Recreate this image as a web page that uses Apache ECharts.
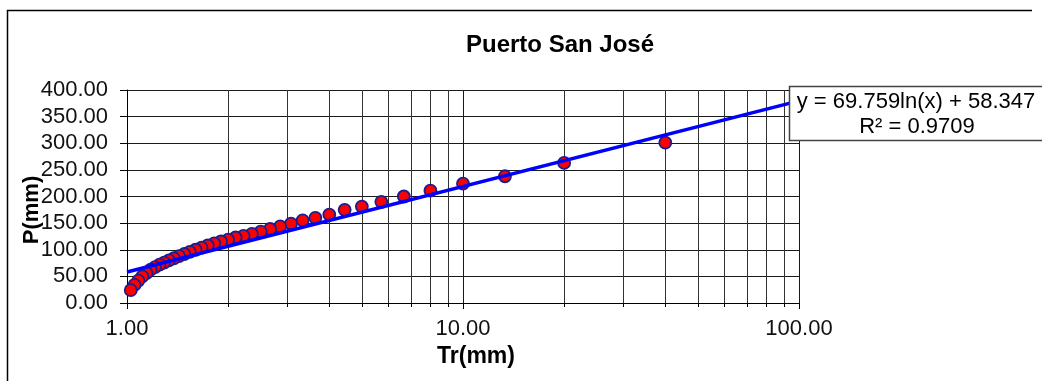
<!DOCTYPE html>
<html>
<head>
<meta charset="utf-8">
<script src="https://cdn.jsdelivr.net/npm/echarts@6/dist/echarts.min.js"></script>
<style>html,body{margin:0;padding:0;background:#fff}#c{width:1042px;height:381px}</style>
</head>
<body>
<div id="c"></div>
<script>
// Return period (Tr) values for the observed points
var trValues = [40, 20, 13.333, 10, 8, 6.667, 5.714, 5, 4.444, 4, 3.636, 3.333, 3.077, 2.857, 2.667, 2.5, 2.353, 2.222, 2.105, 2, 1.905, 1.818, 1.739, 1.667, 1.6, 1.538, 1.481, 1.429, 1.379, 1.333, 1.290, 1.25, 1.212, 1.176, 1.143, 1.111, 1.081, 1.053, 1.026];
// Precipitation P(mm) for each point
var pValues = [301, 263, 238, 224, 211, 200, 190, 181, 175, 166, 160, 155, 149, 144, 139, 134, 130, 126, 123, 119, 115.5, 112, 108, 104, 100, 96, 92, 88, 84, 80, 76, 72, 67.5, 62.5, 56, 50, 42, 34, 24];
// Logarithmic trend line coefficients: y = a ln(x) + b
var trendA = 69.759, trendB = 58.347;
var trendX = [1, 100];
// Axis settings
var xMin = 1, xMax = 100;
var yMin = 0, yMax = 400, yStep = 50;
// Minor log grid positions
var minorX = [2, 3, 4, 5, 6, 7, 8, 9, 20, 30, 40, 50, 60, 70, 80, 90];
var titleText = 'Puerto San José';
var eqText = 'y = 69.759ln(x) + 58.347';
var r2Text = 'R² = 0.9709';

var FONT = '"Liberation Sans", Arial, sans-serif';
var chart = echarts.init(document.getElementById('c'), null, {renderer: 'canvas'});
var scatterData = trValues.map(function (t, i) { return [t, pValues[i]]; });
var trendData = trendX.map(function (x) { return [x, trendA * Math.log(x) + trendB]; });

chart.setOption({
  animation: false,
  backgroundColor: '#fff',
  title: {
    text: titleText, left: 555, top: 28, textAlign: 'center',
    textStyle: {fontFamily: FONT, fontSize: 24, fontWeight: 'bold', color: '#000'}
  },
  grid: {left: 127, right: 243, top: 90, bottom: 78},
  xAxis: {
    type: 'log', logBase: 10, min: xMin, max: xMax,
    name: 'Tr(mm)', nameLocation: 'middle', nameGap: 41,
    nameTextStyle: {fontFamily: FONT, fontSize: 23, fontWeight: 'bold', color: '#000', padding: [0, 0, 0, 26]},
    axisLine: {show: true, lineStyle: {color: '#000', width: 1}},
    axisTick: {show: true, length: 6, lineStyle: {color: '#000'}},
    axisLabel: {fontFamily: FONT, fontSize: 22, color: '#111', margin: 15,
      formatter: function (v) { return Number(v).toFixed(2); }},
    splitLine: {show: true, lineStyle: {color: '#1a1a1a', width: 1}}
  },
  yAxis: {
    type: 'value', min: yMin, max: yMax, interval: yStep,
    axisLine: {show: true, lineStyle: {color: '#000', width: 1}},
    axisTick: {show: true, length: 7, lineStyle: {color: '#000'}},
    axisLabel: {fontFamily: FONT, fontSize: 22, color: '#111', margin: 19,
      formatter: function (v) { return Number(v).toFixed(2); }},
    splitLine: {show: true, lineStyle: {color: '#1a1a1a', width: 1}}
  },
  series: [
    {
      type: 'custom', silent: true, clip: false, z: 1,
      data: minorX.map(function (x) { return [x]; }),
      renderItem: function (params, api) {
        var x = api.value(0);
        var top = api.coord([x, yMax]);
        var bot = api.coord([x, yMin]);
        return {type: 'group', children: [
          {type: 'line', shape: {x1: Math.round(top[0]) + 0.5, y1: top[1], x2: Math.round(bot[0]) + 0.5, y2: bot[1]},
            style: {stroke: '#333', lineWidth: 1}},
          {type: 'line', shape: {x1: Math.round(bot[0]) + 0.5, y1: bot[1], x2: Math.round(bot[0]) + 0.5, y2: bot[1] + 4},
            style: {stroke: '#000', lineWidth: 1}}
        ]};
      }
    },
    {
      type: 'scatter', data: scatterData, symbol: 'circle', symbolSize: 12, z: 3,
      itemStyle: {color: '#ff0000', borderColor: '#1c1c8f', borderWidth: 1.8, opacity: 1}
    },
    {
      type: 'line', data: trendData, showSymbol: false, symbol: 'none', z: 4,
      lineStyle: {color: '#0000ff', width: 3.5}
    }
  ],
  graphic: [
    {type: 'polyline', z: 0, shape: {points: [[7.5, 381], [7.5, 10.5], [1032, 10.5]]},
      style: {stroke: '#000', lineWidth: 1.5, fill: null}},
    {type: 'rect', z: 10, shape: {x: 789.5, y: 86.5, width: 270, height: 54},
      style: {fill: '#fff', stroke: '#444', lineWidth: 1.5}},
    {type: 'text', z: 11, x: 916, y: 102,
      style: {text: eqText, font: '22px ' + FONT, fill: '#000', align: 'center', verticalAlign: 'middle'}},
    {type: 'text', z: 11, x: 917, y: 127,
      style: {text: r2Text, font: '22px ' + FONT, fill: '#000', align: 'center', verticalAlign: 'middle'}},
    {type: 'text', z: 11, x: 32, y: 210, rotation: Math.PI / 2,
      style: {text: 'P(mm)', font: 'bold 22px ' + FONT, fill: '#000', align: 'center', verticalAlign: 'middle'}}
  ]
});
</script>
</body>
</html>
